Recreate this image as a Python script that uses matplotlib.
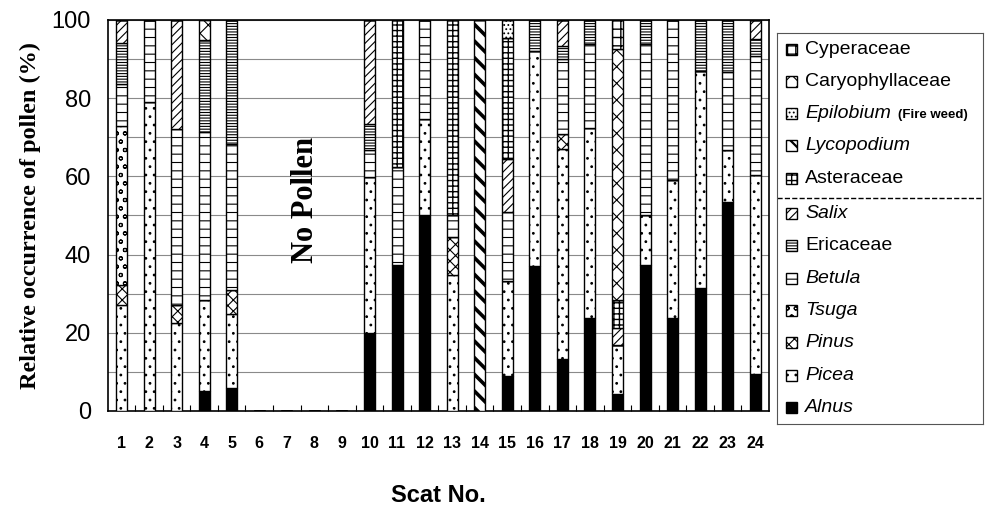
import matplotlib
matplotlib.use("Agg")
import matplotlib.pyplot as plt
import numpy as np
from matplotlib.patches import Rectangle

plt.rcParams['font.family'] = ['Liberation Sans', 'DejaVu Sans']
plt.rcParams['hatch.linewidth'] = 0.8

# scat numbers
scats = np.arange(1, 25)

# segment sizes (%) per taxon, stacked bottom -> top in this order
alnus     = [0, 0, 0, 5.2, 6.0, 0, 0, 0, 0, 20.0, 37.4, 50.1, 0, 0, 9.0, 37.0, 13.2, 23.8, 4.3, 37.4, 23.8, 31.5, 53.5, 9.4]
picea     = [27.2, 79.0, 22.6, 23.3, 18.7, 0, 0, 0, 0, 39.9, 0, 24.6, 34.9, 0, 24.2, 55.1, 53.9, 48.6, 12.7, 12.7, 35.2, 55.5, 13.2, 50.9]
pinus     = [5.1, 0, 4.6, 0, 6.3, 0, 0, 0, 0, 0, 0, 0, 9.7, 0, 0, 0, 3.8, 0, 0, 0, 0, 0, 0, 0]
tsuga     = [40.7, 0, 0, 0, 0, 0, 0, 0, 0, 0, 0, 0, 0, 0, 0, 0, 0, 0, 0, 0, 0, 0, 0, 0]
betula    = [10.6, 21.0, 45.0, 42.8, 37.4, 0, 0, 0, 0, 6.8, 25.0, 25.3, 5.5, 0, 17.8, 0, 19.1, 21.4, 0, 43.7, 41.0, 0, 19.9, 30.5]
ericaceae = [10.6, 0, 0, 23.7, 31.6, 0, 0, 0, 0, 6.7, 0, 0, 0, 0, 0, 7.9, 3.4, 6.2, 0, 6.2, 0, 13.0, 13.4, 4.3]
salix     = [5.8, 0, 27.8, 0, 0, 0, 0, 0, 0, 26.6, 0, 0, 0, 0, 13.5, 0, 6.6, 0, 4.3, 0, 0, 0, 0, 4.9]
asteraceae = [0, 0, 0, 0, 0, 0, 0, 0, 0, 0, 37.6, 0, 49.9, 0, 31.0, 0, 0, 0, 7.2, 0, 0, 0, 0, 0]
lycopodium = [0, 0, 0, 0, 0, 0, 0, 0, 0, 0, 0, 0, 0, 100.0, 0, 0, 0, 0, 0, 0, 0, 0, 0, 0]
epilobium = [0, 0, 0, 0, 0, 0, 0, 0, 0, 0, 0, 0, 0, 0, 4.5, 0, 0, 0, 0, 0, 0, 0, 0, 0]
caryophyllaceae = [0, 0, 0, 5.0, 0, 0, 0, 0, 0, 0, 0, 0, 0, 0, 0, 0, 0, 0, 64.0, 0, 0, 0, 0, 0]
cyperaceae = [0, 0, 0, 0, 0, 0, 0, 0, 0, 0, 0, 0, 0, 0, 0, 0, 0, 0, 7.5, 0, 0, 0, 0, 0]

# (legend label, values, face, hatch, italic, hatch width)
taxa = [
    ("Alnus", alnus, "black", "", True, 0.8),
    ("Picea", picea, "white", "..", True, 0.8),
    ("Pinus", pinus, "white", "xxx", True, 0.8),
    ("Tsuga", tsuga, "white", "oo", True, 0.8),
    ("Betula", betula, "white", "--", True, 0.8),
    ("Ericaceae", ericaceae, "white", "------", False, 0.8),
    ("Salix", salix, "white", "////", True, 0.8),
    ("Asteraceae", asteraceae, "white", "+++", False, 1.0),
    ("Lycopodium", lycopodium, "white", "\\\\", True, 2.6),
    ("Epilobium", epilobium, "white", "....", True, 0.8),
    ("Caryophyllaceae", caryophyllaceae, "white", "xx", False, 0.8),
    ("Cyperaceae", cyperaceae, "white", "++", False, 1.0),
]


def set_hw(patch, w):
    if hasattr(patch, 'set_hatch_linewidth'):
        patch.set_hatch_linewidth(w)


fig = plt.figure(figsize=(9.89, 5.18), dpi=100)
ax = fig.add_axes([0.1089, 0.2066, 0.6687, 0.7548])

bottom = np.zeros(len(scats))
for name, vals, face, hatch, it, hw in taxa:
    vals = np.array(vals, dtype=float)
    bars = ax.bar(scats, vals, width=0.4, bottom=bottom, color=face, hatch=hatch,
                  edgecolor="black", linewidth=1.0, zorder=3)
    for p in bars:
        set_hw(p, hw)
    bottom += vals

ax.set_xlim(0.5, 24.5)
ax.set_ylim(0, 100)
ax.set_yticks(np.arange(0, 101, 20))
ax.set_yticks(np.arange(10, 100, 20), minor=True)
ax.yaxis.grid(True, which='both', color='#8a8a8a', linewidth=0.8, zorder=0)
ax.set_axisbelow(True)
ax.tick_params(axis='y', which='both', length=0, pad=12, labelsize=17)

ax.set_xticks(scats)
ax.set_xticks(np.arange(1.5, 24.5, 1), minor=True)
ax.tick_params(axis='x', which='major', length=0, pad=18, labelsize=11.5)
ax.tick_params(axis='x', which='minor', direction='in', length=4, width=0.8)
for lbl in ax.get_xticklabels():
    lbl.set_fontweight('bold')
for sp in ax.spines.values():
    sp.set_linewidth(1.2)

ax.set_ylabel("Relative occurrence of pollen (%)", family='Liberation Serif',
              fontweight='bold', fontsize=17.5, labelpad=8)
ax.set_xlabel("Scat No.", fontweight='bold', fontsize=17, labelpad=24)

ax.text(7.66, 54, "No Pollen", rotation=90, ha='center', va='center',
        family='Liberation Serif', fontweight='bold', fontsize=22)

# legend drawn in its own box, pixel-like coordinates
lax = fig.add_axes([777 / 989, 1 - 424 / 518, 206 / 989, 391 / 518])
lax.set_xlim(777, 983)
lax.set_ylim(424, 33)
lax.set_xticks([])
lax.set_yticks([])
for sp in lax.spines.values():
    sp.set_linewidth(0.8)
    sp.set_color('#555555')

order = taxa[::-1]
for k, (name, vals, face, hatch, it, hw) in enumerate(order):
    yc = 49 + 32.3 * k + (3 if k >= 5 else 0)
    r = Rectangle((786, yc - 5.5), 11, 11, facecolor=face, hatch=hatch,
                  edgecolor='black', linewidth=1.0)
    set_hw(r, min(hw, 1.6))
    lax.add_patch(r)
    lax.text(805, yc, name, va='center', ha='left', fontsize=14,
             fontstyle='italic' if it else 'normal')
    if name == "Epilobium":
        lax.text(898, yc + 1, "(Fire weed)", va='center', ha='left',
                 fontsize=9.5, fontweight='bold')
lax.plot([777, 983], [198, 198], color='black', linestyle='--', linewidth=1.0)

fig.savefig("out.png", dpi=100)
